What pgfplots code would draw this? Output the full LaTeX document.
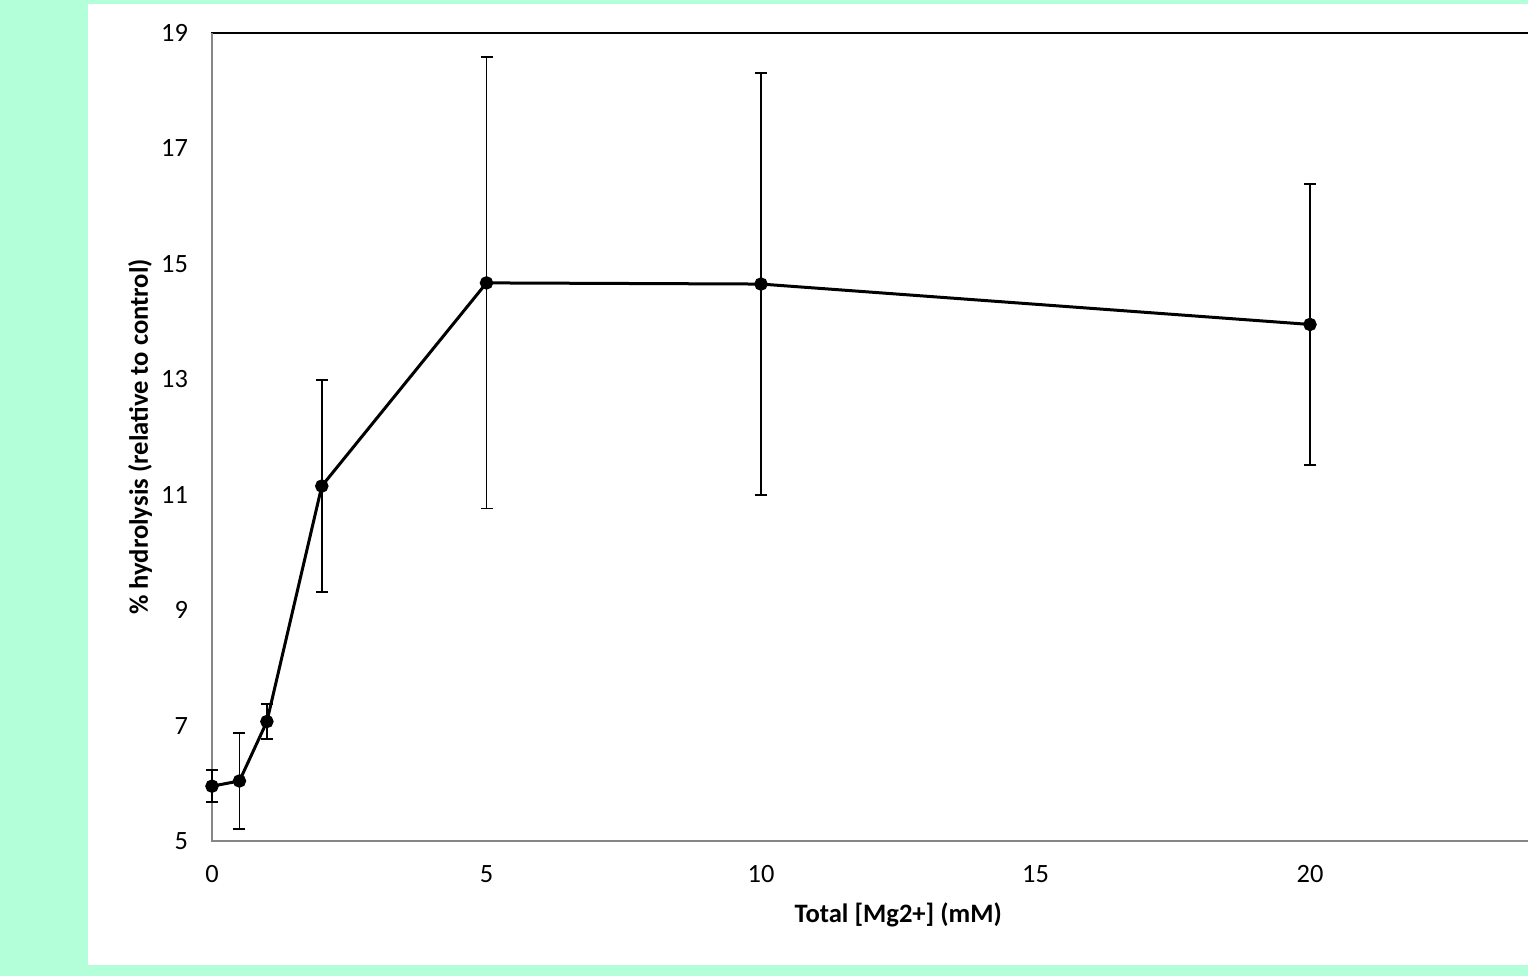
\documentclass[border=0pt]{standalone}
\usepackage{pgfplots}
\pgfplotsset{compat=1.18}
\usepackage{fontspec}
\setmainfont{Carlito}
\definecolor{mint}{HTML}{B3FFD9}
\definecolor{axgray}{HTML}{868686}
\begin{document}
\begin{tikzpicture}
\begin{scope}
\clip (0pt,0pt) rectangle (764pt,488pt);
\fill[mint] (0pt,0pt) rectangle (764pt,488pt);
\fill[white] (44pt,5.5pt) rectangle (800pt,486pt);
\begin{axis}[
  at={(106pt,67.5pt)}, anchor=south west,
  scale only axis, width=686.25pt, height=404pt,
  xmin=0, xmax=25, ymin=5, ymax=19,
  xtick={0,5,10,15,20}, ytick={5,7,9,11,13,15,17,19},
  major tick length=0pt,
  axis line style={black, line width=0.8pt},
  tick label style={font=\fontsize{13.2}{15}\selectfont, black},
  /pgf/number format/assume math mode=true,
  yticklabel style={xshift=-8.5pt},
  xticklabel style={yshift=-8.6pt},
  xlabel={Total [Mg2+] (mM)},
  ylabel={\% hydrolysis (relative to control)},
  every axis x label/.style={at={(rel axis cs:0.5,0)}, yshift=-37pt, anchor=center, font=\fontsize{13.3}{15}\selectfont\bfseries},
  every axis y label/.style={at={(rel axis cs:0,0.5)}, xshift=-36pt, rotate=90, anchor=center, font=\fontsize{13.3}{15}\selectfont\bfseries},
  clip=false,
]
\draw[axgray, line width=1.2pt] (rel axis cs:0,1) -- (rel axis cs:0,0) -- (rel axis cs:1,0);
\addplot[black, line width=1.5pt, mark=*, mark size=2.6pt,
  error bars/.cd, y dir=both, y explicit,
  error bar style={line width=0.9pt, black},
  error mark options={rotate=90, mark size=3pt, line width=0.9pt, black}]
coordinates {
 (0,5.95) +- (0,0.28)
 (0.5,6.04) +- (0,0.83)
 (1,7.07) +- (0,0.30)
 (2,11.15) +- (0,1.84)
 (5,14.67) +- (0,3.91)
 (10,14.65) +- (0,3.65)
 (20,13.95) +- (0,2.44)
};
\end{axis}
\end{scope}
\pgfresetboundingbox
\useasboundingbox (0pt,0pt) rectangle (764pt,488pt);
\end{tikzpicture}
\end{document}
